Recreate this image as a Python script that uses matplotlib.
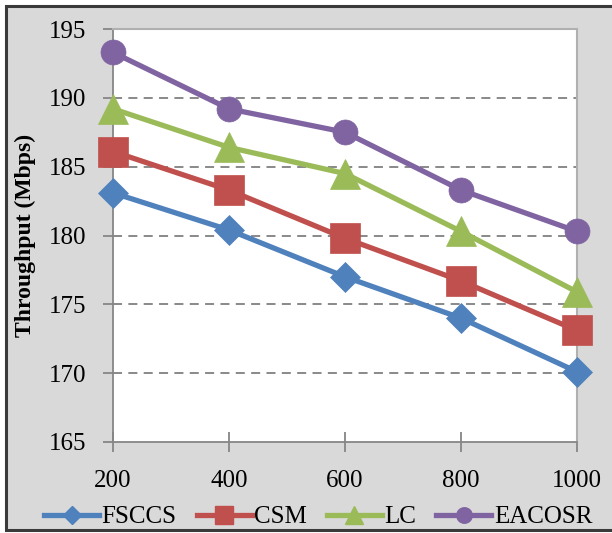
import matplotlib
matplotlib.use("Agg")
import matplotlib.pyplot as plt
from matplotlib.patches import Rectangle
from matplotlib.lines import Line2D

categories = [200, 400, 600, 800, 1000]
fsccs = [183.1, 180.4, 177.0, 174.0, 170.1]
csm = [186.1, 183.3, 179.8, 176.7, 173.1]
lc = [189.2, 186.4, 184.5, 180.3, 175.9]
eacosr = [193.3, 189.2, 187.5, 183.3, 180.3]
series_names = ["FSCCS", "CSM", "LC", "EACOSR"]
y_ticks = [165, 170, 175, 180, 185, 190, 195]

colors = ["#4F81BD", "#C0504D", "#9BBB59", "#8064A2"]
markers = ["D", "s", "^", "o"]
msizes = [15, 21, 21, 18]

plt.rcParams["font.family"] = ["Liberation Serif", "DejaVu Serif"]

fig = plt.figure(figsize=(6.12, 5.33), dpi=100)
fig.patch.set_facecolor("white")
# gray chart background with dark border
bg = Rectangle((6 / 612, 3 / 533), 1.0, 1 - 9 / 533, transform=fig.transFigure,
               facecolor="#d9d9d9", edgecolor="#3a3a3a", linewidth=2.2, zorder=-10)
fig.patches.append(bg)

ax = fig.add_axes([113 / 612, 1 - 442 / 533, (577 - 113) / 612, (442 - 29) / 533])
ax.set_facecolor("white")

x = list(range(len(categories)))
for vals, name, c, m, ms in zip([fsccs, csm, lc, eacosr], series_names, colors, markers, msizes):
    ax.plot(x, vals, color=c, linewidth=3.8, marker=m, markersize=ms,
            markeredgewidth=0.5, markeredgecolor=c, label=name, zorder=5, clip_on=False)

ax.set_xlim(0, len(categories) - 1)
ax.set_ylim(165, 195)
ax.set_yticks(y_ticks)
ax.set_yticklabels([str(v) for v in y_ticks], fontsize=18)
ax.set_xticks(x)
ax.set_xticklabels([str(c) for c in categories], fontsize=18)

for yv in [170, 175, 180, 185, 190]:
    ax.axhline(yv, color="#808080", linewidth=1.3, linestyle=(0, (5, 3.5)), zorder=1)

for side in ["left", "bottom"]:
    ax.spines[side].set_color("#868686")
    ax.spines[side].set_linewidth(1.3)
for side in ["top", "right"]:
    ax.spines[side].set_color("#b0b0b0")
    ax.spines[side].set_linewidth(1.5)

ax.tick_params(axis="y", direction="out", length=7, width=1.3, color="#868686", pad=12)
ax.tick_params(axis="x", direction="inout", length=14, width=1.3, color="#868686", pad=13)

ax.set_ylabel("Throughput (Mbps)", fontsize=17, fontweight="bold")
ax.yaxis.set_label_coords(-0.166, 0.5)

handles = [Line2D([0], [0], color=c, linewidth=3.8, marker=m, markersize=ms * 0.62,
                  markeredgecolor=c) for c, m, ms in zip(colors, markers, msizes)]
fig.legend(handles, series_names, loc="center", bbox_to_anchor=(0.52, 1 - 517 / 533),
           ncol=4, frameon=False, fontsize=18, handlelength=2.2, handletextpad=0.1,
           columnspacing=0.8)

fig.savefig("out.png", dpi=100, facecolor=fig.get_facecolor())
